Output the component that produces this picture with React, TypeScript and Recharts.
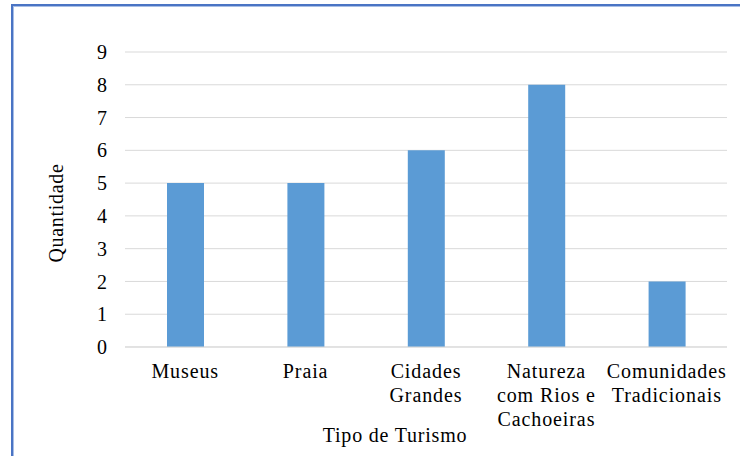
import { BarChart, Bar, XAxis, YAxis, CartesianGrid, Label } from 'recharts'

const categories = ['Museus', 'Praia', 'Cidades\nGrandes', 'Natureza\ncom Rios e\nCachoeiras', 'Comunidades\nTradicionais']
const quantidade = [5, 5, 6, 8, 2]
const yTicks = [0, 1, 2, 3, 4, 5, 6, 7, 8, 9]

const data = categories.map((name, i) => ({ name, quantidade: quantidade[i] }))

const FONT = '"Liberation Serif", "Times New Roman", Tinos, "DejaVu Serif", serif'

const CategoryTick = (props: any) => {
  const { x, y, payload } = props
  const lines = String(payload.value).split('\n')
  return (
    <text x={x} y={y} textAnchor="middle" fill="#000" style={{ fontFamily: FONT, fontSize: 20, letterSpacing: 0.9 }}>
      {lines.map((line, i) => (
        <tspan key={i} x={x} dy={i === 0 ? 31 : 24}>
          {line}
        </tspan>
      ))}
    </text>
  )
}

export default function App() {
  return (
    <div
      style={{
        position: 'absolute',
        left: 0,
        top: 0,
        width: 740,
        height: 456,
        overflow: 'hidden',
        background: '#fff',
        fontFamily: FONT,
      }}
    >
      <div
        style={{
          position: 'absolute',
          left: 11,
          top: 4,
          width: 780,
          height: 500,
          border: '2px solid #4a74c4',
          boxShadow: 'inset 1px 1px 0 #a8bee6',
        }}
      />
      <div style={{ position: 'absolute', left: 0, top: 0 }}>
        <BarChart width={740} height={456} data={data} margin={{ top: 52, right: 13, bottom: 79, left: 0 }}>
          <CartesianGrid vertical={false} stroke="#d9d9d9" strokeWidth={1} />
          <XAxis
            dataKey="name"
            interval={0}
            axisLine={{ stroke: '#d9d9d9' }}
            tickLine={false}
            tickSize={0}
            tickMargin={0}
            tick={<CategoryTick />}
          >
            <Label
              content={() => (
                <text x={395} y={442} textAnchor="middle" fill="#000" style={{ fontFamily: FONT, fontSize: 20, letterSpacing: 0.8 }}>
                  Tipo de Turismo
                </text>
              )}
            />
          </XAxis>
          <YAxis
            width={125}
            domain={[0, 9]}
            ticks={yTicks}
            interval={0}
            axisLine={false}
            tickLine={false}
            tickSize={0}
            tickMargin={18}
            tick={{ fill: '#000', fontSize: 20, style: { fontFamily: FONT } }}
          >
            <Label
              content={() => (
                <text
                  x={63}
                  y={213}
                  transform="rotate(-90 63 213)"
                  textAnchor="middle"
                  fill="#000"
                  style={{ fontFamily: FONT, fontSize: 20, letterSpacing: 0.7 }}
                >
                  Quantidade
                </text>
              )}
            />
          </YAxis>
          <Bar dataKey="quantidade" fill="#5b9bd5" barSize={37} isAnimationActive={false} />
        </BarChart>
      </div>
    </div>
  )
}
